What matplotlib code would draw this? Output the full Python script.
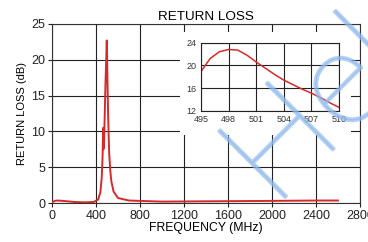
import numpy as np
import matplotlib.pyplot as plt
import matplotlib.patheffects as pe
from matplotlib.patches import Rectangle

plt.rcParams['font.family'] = ['Liberation Sans', 'DejaVu Sans']

# main sweep (MHz, dB)
freq = [0, 25, 50, 100, 200, 300, 380, 420, 440, 452, 460, 464, 466, 468, 470,
        472, 475, 480, 486, 492, 495, 497, 498.5, 501, 504, 507, 510, 515, 520,
        530, 540, 560, 600, 700, 1000, 1500, 2000, 2400, 2600]
rl = [0.1, 0.3, 0.35, 0.3, 0.15, 0.1, 0.15, 0.5, 1.5, 3.5, 6.5, 9.5, 10.5, 7.5,
      10.3, 7.8, 9.5, 12.5, 16.5, 19.5, 21.0, 22.4, 22.7, 20.6, 17.4, 15.1,
      12.6, 9.5, 7.0, 4.5, 3.0, 1.6, 0.7, 0.35, 0.2, 0.25, 0.3, 0.35, 0.35]

# zoomed view around the peak
freq_zoom = [495, 496, 497, 498, 499, 500, 501, 502, 503, 504, 505, 506, 507,
             508, 509, 510]
rl_zoom = [18.9, 21.2, 22.4, 22.8, 22.7, 21.8, 20.6, 19.5, 18.4, 17.4, 16.6,
           15.8, 15.1, 14.3, 13.4, 12.6]

red = '#d42a2a'
gridc = '#222222'
wm = '#8fb8ec'

fig = plt.figure(figsize=(3.68, 2.42), dpi=100)
ax = fig.add_axes([0.1413, 0.161, 0.8367, 0.740])
ax.plot(freq, rl, color=red, lw=1.4, zorder=3)
ax.set_xlim(0, 2800)
ax.set_ylim(0, 25)
ax.set_xticks(np.arange(0, 2801, 400))
ax.set_yticks(np.arange(0, 26, 5))
ax.grid(True, color=gridc, lw=0.8)
ax.tick_params(length=3, width=0.8, labelsize=9, pad=2, colors='#222222')
for s in ax.spines.values():
    s.set_color('#333333')
    s.set_linewidth(0.8)
ax.set_title('RETURN LOSS', fontsize=9.7, pad=3)
ax.set_xlabel('FREQUENCY (MHz)', fontsize=8.8, labelpad=0)
ax.set_ylabel('RETURN LOSS (dB)', fontsize=8, labelpad=3)

# white panel behind the inset hides the grid
ax.add_patch(Rectangle((0.416, 0.38), 0.555, 0.575, transform=ax.transAxes,
                       facecolor='white', edgecolor='none', zorder=2.5))

ins = fig.add_axes([0.546, 0.5426, 0.375, 0.281])
ins.plot(freq_zoom, rl_zoom, color=red, lw=1.1)
ins.set_xlim(495, 510)
ins.set_ylim(12, 24)
ins.set_xticks(np.arange(495, 511, 3))
ins.set_yticks([12, 16, 20, 24])
ins.grid(True, color=gridc, lw=0.8)
ins.tick_params(length=0, labelsize=6.5, pad=3, colors='#333333')
for s in ins.spines.values():
    s.set_color('#222222')
    s.set_linewidth(0.8)

# watermark
fig.text(0.745, 0.14, 'Hel', fontsize=96, rotation=45, rotation_mode='anchor',
         ha='left', va='baseline', color=wm, zorder=10,
         family=['Lato', 'Roboto', 'DejaVu Sans'], fontweight='light',
         path_effects=[pe.Stroke(linewidth=2.5, foreground=wm, alpha=0.65)])

fig.savefig('out.png', dpi=100)
